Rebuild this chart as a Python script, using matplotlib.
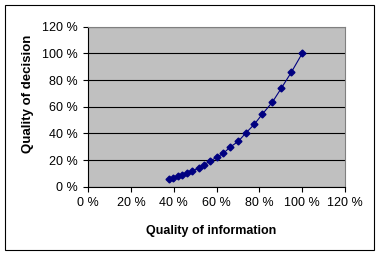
import matplotlib
matplotlib.use("Agg")
import matplotlib.pyplot as plt
from matplotlib.patches import Rectangle

plt.rcParams['font.family'] = ['Liberation Sans', 'DejaVu Sans']

# quality of information (%) vs quality of decision (%)
info = [37.7, 39.4, 42.0, 43.9, 46.3, 48.5, 51.6, 54.2, 57.0, 60.0,
        63.1, 66.4, 70.1, 73.5, 77.6, 81.3, 86.0, 90.2, 94.9, 100.0]
decision = [5.5, 6.3, 8.0, 9.0, 10.3, 11.8, 14.0, 16.5, 19.3, 22.0,
            25.0, 29.8, 34.0, 40.0, 46.8, 54.3, 63.3, 73.8, 85.8, 100.0]
ticks = [0, 20, 40, 60, 80, 100, 120]
tick_labels = ['%d %%' % t for t in ticks]

fig = plt.figure(figsize=(3.81, 2.57), dpi=100)
fig.patches.append(Rectangle((5/381, 1 - 250/257), 369/381, 245/257,
                             transform=fig.transFigure, fill=False,
                             edgecolor='black', linewidth=0.8))

ax = fig.add_axes([88.3/381, 1 - 186.7/257, 256.7/381, 160/257])
ax.set_facecolor('#c0c0c0')
ax.plot(info, decision, color='#000080', linewidth=0.8, marker='D',
        markersize=3.5, markerfacecolor='#000080', markeredgecolor='#000080')

ax.set_xlim(0, 120)
ax.set_ylim(0, 120)
ax.set_xticks(ticks)
ax.set_yticks(ticks)
ax.set_xticklabels(tick_labels)
ax.set_yticklabels(tick_labels)
ax.tick_params(direction='out', length=3.6, width=0.8, labelsize=9,
               colors='black', pad=4)
ax.yaxis.grid(True, color='black', linewidth=0.8)
ax.set_axisbelow(True)

for side in ['top', 'right']:
    ax.spines[side].set_color('#808080')
    ax.spines[side].set_linewidth(0.8)
for side in ['left', 'bottom']:
    ax.spines[side].set_color('black')
    ax.spines[side].set_linewidth(0.8)

ax.set_xlabel('Quality of information', fontsize=9, fontweight='bold')
ax.set_ylabel('Quality of decision', fontsize=9.5, fontweight='bold')
ax.xaxis.set_label_coords(0.478, -0.24)
ax.yaxis.set_label_coords(-0.21, 0.579)

fig.savefig('out.png', dpi=100)
